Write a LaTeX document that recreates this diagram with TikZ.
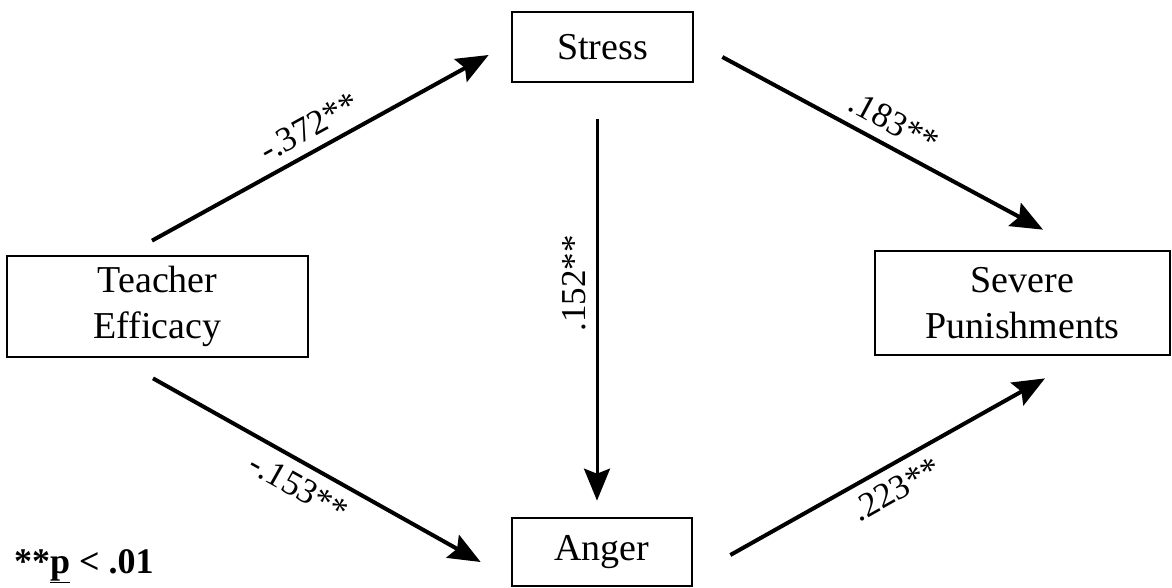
\documentclass[tikz,border=0pt]{standalone}
\usepackage{fontspec}
\setmainfont{Liberation Serif}
\usetikzlibrary{arrows.meta}

\begin{document}
\begin{tikzpicture}[x=1pt, y=-1pt,
  box/.style={draw, line width=2.7pt, align=center, inner sep=0pt,
    font=\fontsize{38}{45.6}\selectfont},
  effect/.style={line width=4pt, -{Stealth[length=32pt, width=26pt, inset=5pt]}},
  coef/.style={font=\fontsize{35}{42}\selectfont, inner sep=10pt}]

  \useasboundingbox (0,0) rectangle (1172,587);

  % Draw the four boxes
  \node[box, minimum width=181pt, minimum height=70pt] (stress) at (602.5,47) {Stress};
  \node[box, minimum width=180pt, minimum height=68pt] (anger) at (602,552) {Anger};
  \node[box, minimum width=301pt, minimum height=101pt] (teacher) at (157.5,306.5) {Teacher\\Efficacy};
  \node[box, minimum width=295pt, minimum height=104pt] (severe) at (1022.5,303) {Severe\\Punishments};

  % Ends of the arrows, kept off the boxes
  \coordinate (te-up) at ([shift={(-5.5,-14)}]teacher.north);
  \coordinate (te-down) at ([shift={(-4.5,20)}]teacher.south);
  \coordinate (st-in) at ([shift={(-22,8)}]stress.west);
  \coordinate (st-down) at ([shift={(-5.5,36)}]stress.south);
  \coordinate (st-out) at ([shift={(28,10)}]stress.east);
  \coordinate (an-in) at ([shift={(-30,10)}]anger.west);
  \coordinate (an-up) at ([shift={(-5,-16)}]anger.north);
  \coordinate (an-out) at ([shift={(37,3)}]anger.east);
  \coordinate (se-up) at ([shift={(20.5,-20)}]severe.north);
  \coordinate (se-down) at ([shift={(22.5,22)}]severe.south);

  % Draw the paths and their coefficients
  \draw[effect] (te-up) -- node[coef, midway, sloped, above] {-.372**} (st-in);
  \draw[effect] (te-down) -- node[coef, pos=0.48, sloped, below] {-.153**} (an-in);
  \draw[effect] (st-out) -- node[coef, midway, sloped, above] {.183**} (se-up);
  \draw[effect] (an-out) -- node[coef, pos=0.49, sloped, below] {.223**} (se-down);
  \draw[effect, line width=3pt] (st-down) -- node[coef, pos=0.43, rotate=90, anchor=south] {.152**} (an-up);

  % Significance note
  \node[anchor=base west, inner sep=0pt, font=\fontsize{36}{43}\selectfont\bfseries] (note) at (14,573) {**\underline{p} < .01};

\end{tikzpicture}
\end{document}
